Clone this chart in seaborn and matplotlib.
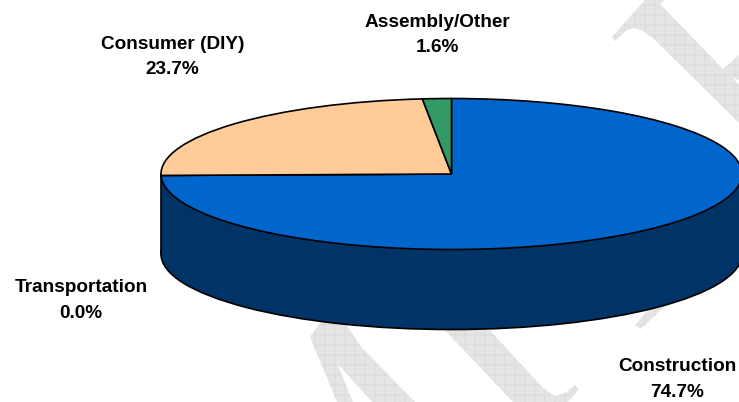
import matplotlib
matplotlib.use("Agg")
import matplotlib.pyplot as plt
from matplotlib.patches import Polygon, Rectangle
import seaborn as sns

categories = ["Construction", "Transportation", "Consumer (DIY)", "Assembly/Other"]
shares = [74.7, 0.0, 23.7, 1.6]
top_colors = sns.color_palette(["#0066CC", "#003366", "#FFCC99", "#339966"])
side_color = "#003366"

# label centres in picture pixels (x, y of the middle of the two lines)
label_pos = [(677, 379.5), (81, 300.5), (172.5, 57), (437, 35)]

# leftover bits of the DRAFT watermark behind the pie, in picture pixels
watermark = [
    [(612, 37), (645, 0), (665, 0), (660, 4), (723, 69), (739, 55), (739, 80), (732, 77),
     (739, 85), (739, 123), (655, 40), (643, 31), (635, 28), (627, 30), (615, 41)],
    [(310, 337), (322, 320), (343, 320), (362, 348), (415, 402), (372, 402), (337, 363),
     (353, 402), (337, 402)],
    [(440, 325), (485, 325), (543, 388), (555, 396), (565, 393), (575, 385), (579, 389),
     (568, 402), (513, 402)],
    [(635, 325), (641, 329), (668, 303), (660, 297)],
]

W, H, DPI = 739, 402, 120
# ellipse of the pie top, pixels
CX, CY, RX, RY, DEPTH = 451.5, 174, 290.5, 75.5, 80

sns.set_theme(style="white")
plt.rcParams["font.family"] = ["Liberation Sans", "DejaVu Sans"]
plt.rcParams["hatch.linewidth"] = 0.4

fig = plt.figure(figsize=(W / DPI, H / DPI), dpi=DPI, facecolor="white")

# background layer in pixel coordinates
bg = fig.add_axes([0, 0, 1, 1])
bg.set_xlim(0, W)
bg.set_ylim(H, 0)
bg.axis("off")
for pts in watermark:
    bg.add_patch(Polygon(pts, closed=True, facecolor="#E5E5E5", edgecolor="#D6D6D6",
                         hatch="++", linewidth=0))

# pie layer, unit circle squashed into the ellipse
ax = fig.add_axes([0, 0, 1, 1])
edge = {"edgecolor": "black", "linewidth": 1.0}
d = DEPTH / RY
ax.pie([100], colors=[side_color], center=(0, -d), startangle=90, wedgeprops=edge)
ax.add_patch(Rectangle((-1, -d), 2, d, facecolor=side_color, edgecolor="none", zorder=1.5))
ax.plot([-1, -1], [-d, 0], color="black", lw=1.0, zorder=1.6)
ax.plot([1, 1], [-d, 0], color="black", lw=1.0, zorder=1.6)
wedges, _ = ax.pie(shares, colors=top_colors, startangle=90, counterclock=False, wedgeprops=edge)
for w in wedges:
    w.set_zorder(2)
ax.set_aspect("auto")
ax.set_xlim((0 - CX) / RX, (W - CX) / RX)
ax.set_ylim((CY - H) / RY, CY / RY)
ax.patch.set_alpha(0)

for name, val, (x, y) in zip(categories, shares, label_pos):
    label = f"{name}\n{val:.1f}%"
    fig.text(x / W, 1 - y / H, label, ha="center", va="center", fontsize=11.4,
             fontweight="bold", color="black", linespacing=1.62)

fig.savefig("out.png", dpi=DPI)
